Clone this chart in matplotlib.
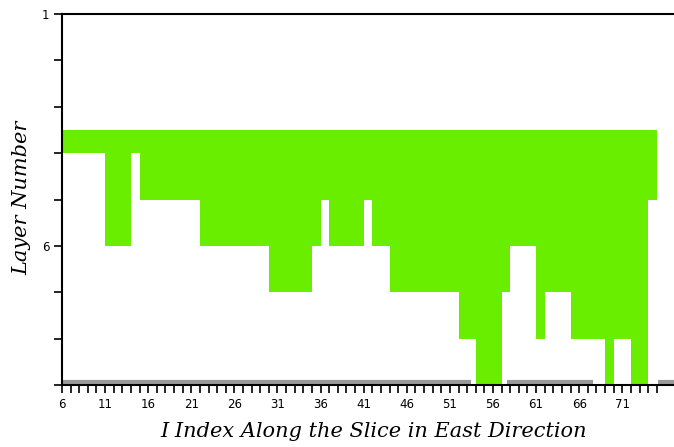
import numpy as np
import matplotlib
matplotlib.use('Agg')
from matplotlib import pyplot as plt
from matplotlib.ticker import FixedLocator

# I index of each column along the slice (east direction)
i_index = list(range(6, 75))

# top of the green zone (layer units) and deepest layer reached per column
zone_top = 3.5
deepest_layer = [4, 4, 4, 4, 4,
                 6, 6, 6,
                 4,
                 5, 5, 5, 5, 5, 5, 5,
                 6, 6, 6, 6, 6, 6, 6, 6,
                 7, 7, 7, 7, 7,
                 6, 5, 6, 6, 6, 6, 5, 6, 6,
                 7, 7, 7, 7, 7, 7, 7, 7,
                 8, 8,
                 9, 9, 9,
                 7,
                 6, 6, 6,
                 8,
                 7, 7, 7,
                 8, 8, 8, 8,
                 9,
                 8, 8,
                 9, 9,
                 5]

# bottom-layer segments drawn in grey (start, end in I index)
bottom_segments = [(6, 53.4), (57.6, 67.6), (75.1, 78)]

x_tick_labels = [6, 11, 16, 21, 26, 31, 36, 41, 46, 51, 56, 61, 66, 71]
y_tick_labels = [1, 6]

fig = plt.figure(figsize=(6.74, 4.47), dpi=100)
ax = fig.add_axes([62 / 674, 1 - 385 / 447, 1 - 62 / 674, (385 - 14) / 447])

x = np.array(i_index + [i_index[-1] + 1])
bottom = np.array(deepest_layer + [deepest_layer[-1]], dtype=float)
ax.fill_between(x, zone_top, bottom, step='post', color='#69EE00', linewidth=0)

for x0, x1 in bottom_segments:
    ax.plot([x0, x1], [8.94, 8.94], color='#9a9a9a', linewidth=3, solid_capstyle='butt')

ax.set_xlim(6, 77)
ax.set_ylim(9, 1)

ax.xaxis.set_major_locator(FixedLocator(x_tick_labels))
ax.xaxis.set_minor_locator(FixedLocator([v for v in range(6, 76) if v not in x_tick_labels]))
ax.yaxis.set_major_locator(FixedLocator(y_tick_labels))
ax.yaxis.set_minor_locator(FixedLocator([v for v in range(1, 10) if v not in y_tick_labels]))

ax.tick_params(axis='both', which='both', direction='out', length=6, width=1.2,
               labelsize=8.5, pad=3)

for side in ['left', 'top', 'bottom']:
    ax.spines[side].set_linewidth(1.5)
ax.spines['right'].set_visible(False)

label_font = dict(family='DejaVu Serif', style='italic', size=15)
ax.set_xlabel('I Index Along the Slice in East Direction', **label_font)
ax.set_ylabel('Layer Number', **label_font)
ax.xaxis.set_label_coords((374 - 62) / 612, -37 / 371)
ax.yaxis.set_label_coords(-31 / 612, (385 - 198) / 371)

fig.savefig('out.png', dpi=100)
